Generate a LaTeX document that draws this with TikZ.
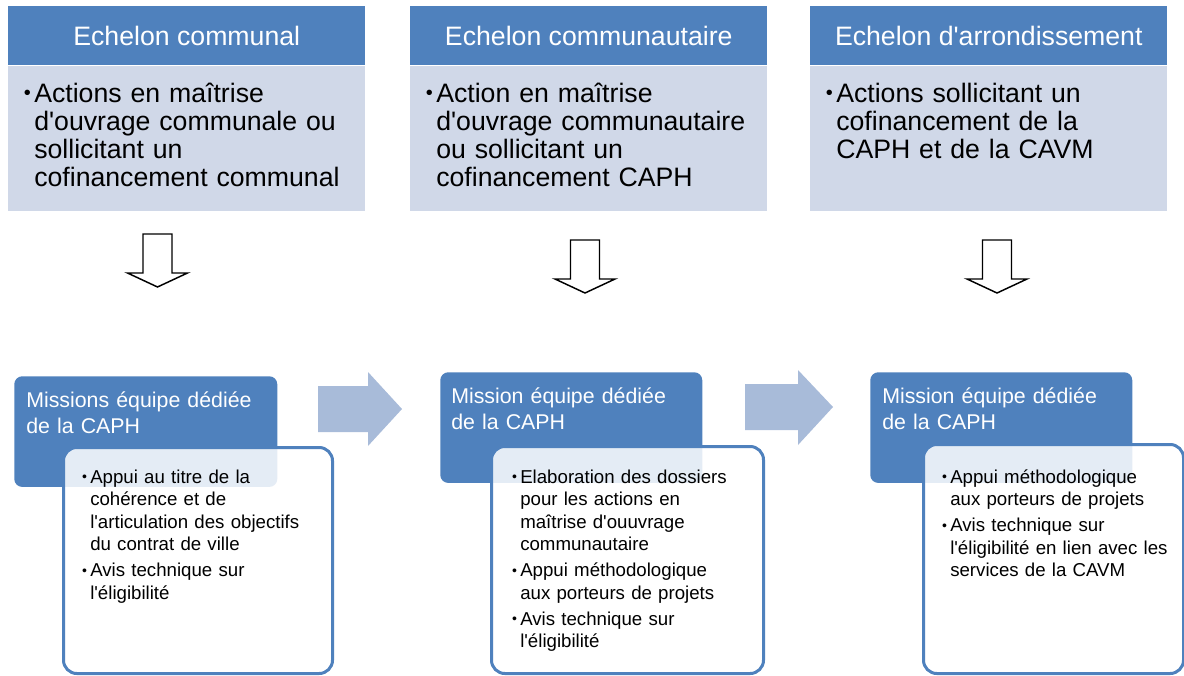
\documentclass[tikz,border=0pt]{standalone}
\usepackage{fontspec}
\setmainfont{Liberation Sans}[Ligatures=TeXOff]
\usetikzlibrary{positioning,calc}
\definecolor{Bleu}{HTML}{4F81BD}
\definecolor{BleuPale}{HTML}{D0D8E8}
\definecolor{BleuFleche}{HTML}{A8BBD9}
\newcommand{\puce}{\leavevmode\llap{\raisebox{0.08em}{\scalebox{0.75}{\textbullet}}\hspace{2.5pt}}}

\begin{document}
\begin{tikzpicture}[x=0.75pt,y=-0.75pt,
  entete/.style={fill=Bleu,text=white,minimum width=267.75pt,minimum height=44.25pt,inner sep=0pt,font=\fontsize{20}{24}\selectfont},
  corps/.style={fill=BleuPale,minimum width=267.75pt,minimum height=108.75pt,inner sep=0pt},
  puces/.style={anchor=base west,inner sep=0pt,align=left,text width=260pt,font=\fontsize{20}{21}\selectfont},
  mission/.style={fill=Bleu,rounded corners=6pt,minimum height=83pt,inner sep=0pt},
  titremission/.style={anchor=base west,inner sep=0pt,align=left,text width=200pt,text=white,font=\fontsize{16}{19.5}\selectfont},
  detail/.style={draw=Bleu,line width=2.25pt,fill=white,fill opacity=0.85,rounded corners=10pt,inner sep=0pt},
  texte/.style={anchor=base west,inner sep=0pt,align=left,text width=200pt,font=\fontsize{14}{16.9}\selectfont},
  creuse/.style={draw=black,line width=1.1pt,fill=white,line join=miter},
  pleine/.style={fill=BleuFleche}]
  \useasboundingbox (0,0) rectangle (1184,675);

  % echelons du haut
  \foreach \i/\x/\titre in {1/8/Echelon communal,2/410/Echelon communautaire,3/810/Echelon d'arrondissement}{
    \node[entete,anchor=north west] (e\i) at (\x,6) {\titre};
    \node[corps,anchor=north west] (c\i) at (e\i.south west) {};
  }
  \node[puces] (p1) at (34,102) {\puce Actions en maîtrise\\d'ouvrage communale ou\\sollicitant un\\cofinancement communal};
  \node[puces] (p2) at (436,102) {\puce Action en maîtrise\\d'ouvrage communautaire\\ou sollicitant un\\cofinancement CAPH};
  \node[puces] (p3) at (836,102) {\puce Actions sollicitant un\\cofinancement de la\\CAPH et de la CAVM};

  % fleches creuses vers le bas
  \foreach \x/\y in {157.5/234,585/240,997/240}
    \draw[creuse] (\x-14.5,\y) -- (\x+14.5,\y) -- (\x+14.5,\y+39) -- (\x+30,\y+39)
      -- (\x,\y+53) -- (\x-30,\y+39) -- (\x-14.5,\y+39) -- cycle;

  % missions de la CAPH
  \node[mission,anchor=north west,minimum width=197.25pt] (m1) at (14,376) {};
  \node[mission,anchor=north west,minimum width=196.5pt] (m2) at (440,372) {};
  \node[mission,anchor=north west,minimum width=196.5pt] (m3) at (870,372) {};
  \node[titremission] (tm1) at (26,407) {Missions équipe dédiée\\de la CAPH};
  \node[titremission] (tm2) at (451,403) {Mission équipe dédiée\\de la CAPH};
  \node[titremission] (tm3) at (882,403) {Mission équipe dédiée\\de la CAPH};

  \node[detail,anchor=north west,minimum width=201.75pt,minimum height=169.5pt] (d1) at (62,446) {};
  \node[detail,anchor=north west,minimum width=204pt,minimum height=170.25pt] (d2) at (490,445) {};
  \node[detail,anchor=north west,minimum width=195pt,minimum height=171.75pt] (d3) at (922,443) {};

  \node[texte] (t1) at (90,483) {\puce Appui au titre de la\\cohérence et de\\l'articulation des objectifs\\du contrat de ville\\[2.6pt]\puce Avis technique sur\\l'éligibilité};
  \node[texte] (t2) at (520,483) {\puce Elaboration des dossiers\\pour les actions en\\maîtrise d'ouuvrage\\communautaire\\[2.6pt]\puce Appui méthodologique\\aux porteurs de projets\\[2.6pt]\puce Avis technique sur\\l'éligibilité};
  \node[texte] (t3) at (950,483) {\puce Appui méthodologique\\aux porteurs de projets\\[2.6pt]\puce Avis technique sur\\l'éligibilité en lien avec les\\services de la CAVM};

  % fleches pleines entre les missions
  \fill[pleine] (318,386) -- (368,386) -- (368,372) -- (402,409) -- (368,446) -- (368,432) -- (318,432) -- cycle;
  \fill[pleine] (745,384) -- (798,384) -- (798,370) -- (833,407) -- (798,445) -- (798,430) -- (745,430) -- cycle;
\end{tikzpicture}
\end{document}
